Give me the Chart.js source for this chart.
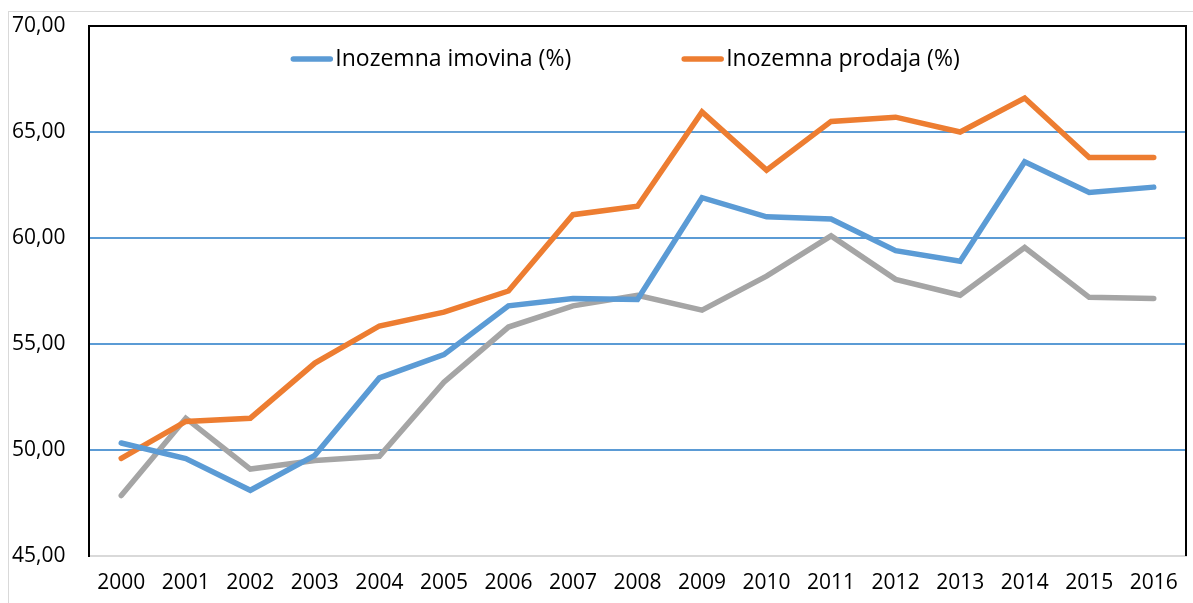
<!DOCTYPE html>
<html>
<head>
<meta charset="utf-8">
<script src="https://cdn.jsdelivr.net/npm/chart.js@4.4.1/dist/chart.umd.min.js"></script>
<style>
  html, body { margin: 0; padding: 0; background: #fff; }
  #wrap { position: relative; width: 1193px; height: 603px; overflow: hidden; }
  #frame { position: absolute; left: 8px; top: 11px; right: -10px; bottom: -10px;
           border-left: 1px solid #d9d9d9; border-top: 1px solid #d9d9d9; }
  canvas { position: absolute; left: 0; top: 0; }
</style>
</head>
<body>
<div id="wrap">
  <div id="frame"></div>
  <canvas id="c" width="1193" height="603"></canvas>
</div>
<script>
const categories = ['2000','2001','2002','2003','2004','2005','2006','2007','2008','2009','2010','2011','2012','2013','2014','2015','2016'];
const imovinaLabel = 'Inozemna imovina (%)';
const prodajaLabel = 'Inozemna prodaja (%)';
const imovina = [50.33, 49.6, 48.1, 49.75, 53.4, 54.5, 56.8, 57.15, 57.1, 61.9, 61.0, 60.9, 59.4, 58.9, 63.6, 62.15, 62.4];
const prodaja = [49.6, 51.35, 51.5, 54.1, 55.85, 56.5, 57.5, 61.1, 61.5, 65.95, 63.2, 65.5, 65.7, 65.0, 66.6, 63.8, 63.8];
const treca    = [47.85, 51.5, 49.1, 49.5, 49.7, 53.2, 55.8, 56.8, 57.3, 56.6, 58.2, 60.1, 58.05, 57.3, 59.55, 57.2, 57.15];
const yTicks = [45, 50, 55, 60, 65, 70];

const FONT = "'Open Sans', 'DejaVu Sans', sans-serif";

const frameAndLegend = {
  id: 'frameAndLegend',
  afterDatasetsDraw(chart) {
    const ctx = chart.ctx, a = chart.chartArea;
    ctx.save();
    ctx.strokeStyle = '#000';
    ctx.lineWidth = 2;
    ctx.beginPath();
    ctx.moveTo(a.left, a.top);
    ctx.lineTo(a.right, a.top);
    ctx.lineTo(a.right, a.bottom);
    ctx.stroke();
    ctx.font = '23px ' + FONT;
    ctx.textBaseline = 'middle';
    const items = chart.data.datasets.filter(d => d.label);
    const sample = 41, gapText = 3, gapItems = 111;
    const widths = items.map(d => sample + gapText + ctx.measureText(d.label).width);
    const total = widths.reduce((s, w) => s + w, 0) + gapItems * (items.length - 1);
    let x = (a.left + a.right) / 2 - total / 2 - 12;
    const y = a.top + 33;
    items.forEach((d, i) => {
      ctx.strokeStyle = d.borderColor;
      ctx.lineWidth = 5.5;
      ctx.lineCap = 'round';
      ctx.beginPath();
      ctx.moveTo(x + 2, y);
      ctx.lineTo(x + sample - 2, y);
      ctx.stroke();
      ctx.fillStyle = '#000';
      ctx.textAlign = 'left';
      ctx.fillText(d.label, x + sample + gapText, y);
      x += widths[i] + gapItems;
    });
    ctx.restore();
  }
};

new Chart(document.getElementById('c'), {
  type: 'line',
  data: {
    labels: categories,
    datasets: [
      { label: imovinaLabel, data: imovina, borderColor: '#5B9BD5', backgroundColor: '#5B9BD5' },
      { label: prodajaLabel, data: prodaja, borderColor: '#ED7D31', backgroundColor: '#ED7D31' },
      { label: '', data: treca, borderColor: '#A5A5A5', backgroundColor: '#A5A5A5' }
    ]
  },
  options: {
    responsive: false,
    animation: false,
    devicePixelRatio: 1,
    layout: { padding: { left: 12, right: 7, top: 26, bottom: 0 } },
    elements: {
      line: { borderWidth: 5.5, tension: 0, borderCapStyle: 'round', borderJoinStyle: 'miter' },
      point: { radius: 0, hoverRadius: 0 }
    },
    plugins: { legend: { display: false }, tooltip: { enabled: false } },
    scales: {
      x: {
        offset: true,
        afterFit(scale) { scale.height = 47; },
        grid: { display: false, drawTicks: false },
        border: { display: true, color: '#d9d9d9', width: 2 },
        ticks: { color: '#000', font: { family: FONT, size: 21 }, padding: 14, maxRotation: 0, autoSkip: false }
      },
      y: {
        min: 45, max: 70,
        afterBuildTicks(scale) { scale.ticks = yTicks.map(v => ({ value: v })); },
        afterFit(scale) { scale.width = 77; },
        grid: {
          drawTicks: false,
          color: ctx => (ctx.tick && (ctx.tick.value === 45 || ctx.tick.value === 70)) ? 'rgba(0,0,0,0)' : '#5B9BD5',
          lineWidth: 2
        },
        border: { display: true, color: '#000', width: 2 },
        ticks: {
          color: '#000',
          font: { family: FONT, size: 21 },
          crossAlign: 'far',
          padding: 0,
          callback: v => Number(v).toFixed(2).replace('.', ',')
        }
      }
    }
  },
  plugins: [frameAndLegend]
});
</script>
</body>
</html>
